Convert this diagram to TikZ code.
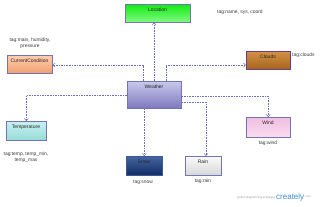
\documentclass[tikz,border=0pt]{standalone}
\usepackage{fontspec}
\setmainfont{Liberation Sans}
\usetikzlibrary{arrows.meta,calc}
\definecolor{bordc}{HTML}{7474B4}
\definecolor{connc}{HTML}{6E6EC0}
\definecolor{txtc}{HTML}{3A3A3A}
\tikzset{
  ent/.style={draw=bordc, line width=0.6pt, inner sep=0pt, anchor=north west, text=black},
  entl/.style={font=\fontsize{5}{6}\selectfont, inner sep=0pt, text=black!85},
  tagl/.style={text=txtc, font=\fontsize{4.9}{5.8}\selectfont, align=center, inner sep=0pt},
  conn/.style={draw=connc, dashed, dash pattern=on 1.6pt off 1pt, line width=0.5pt,
    -{Straight Barb[length=2.2pt,width=4pt,line width=0.5pt]}},
}
\begin{document}
\begin{tikzpicture}[x=1pt,y=-1pt]
\useasboundingbox (0,0) rectangle (320,206);
\fill[white] (0,0) rectangle (320,206);
% entities (top-left anchored)
\node[ent, minimum width=65pt, minimum height=18pt, top color={rgb,255:red,20;green,235;blue,20}, bottom color={rgb,255:red,130;green,250;blue,130}] (loc) at (125,4) {};
\node[entl] (locl) at (157.5,9.5) {Location};
\node[ent, minimum width=45pt, minimum height=18pt, top color={rgb,255:red,255;green,205;blue,175}, bottom color={rgb,255:red,240;green,160;blue,110}] (cc) at (7,55) {};
\node[entl] (ccl) at (29.5,60.5) {CurrentCondition};
\node[ent, minimum width=44pt, minimum height=18pt, top color={rgb,255:red,210;green,145;blue,70}, bottom color={rgb,255:red,165;green,100;blue,25}, draw={rgb,255:red,110;green,60;blue,140}] (clouds) at (246,51) {};
\node[entl] (cloudsl) at (268,56.5) {Clouds};
\node[ent, minimum width=54pt, minimum height=27pt, top color={rgb,255:red,200;green,200;blue,235}, bottom color={rgb,255:red,125;green,120;blue,190}] (weather) at (127,81) {};
\node[entl] (weatherl) at (154,86.5) {Weather};
\node[ent, minimum width=40pt, minimum height=19pt, top color={rgb,255:red,200;green,240;blue,240}, bottom color={rgb,255:red,150;green,220;blue,215}] (temp) at (6,121) {};
\node[entl] (templ) at (26,127) {Temperature};
\node[ent, minimum width=44pt, minimum height=20pt, top color={rgb,255:red,240;green,190;blue,225}, bottom color={rgb,255:red,250;green,220;blue,240}] (wind) at (246,117) {};
\node[entl] (windl) at (268,123) {Wind};
\node[ent, minimum width=36pt, minimum height=19pt, top color={rgb,255:red,70;green,100;blue,160}, bottom color={rgb,255:red,15;green,45;blue,100}, draw={rgb,255:red,60;green,90;blue,150}] (snow) at (126,156) {};
\node[entl] (snowl) at (144,161.5) {Snow};
\node[ent, minimum width=36pt, minimum height=19pt, top color={rgb,255:red,250;green,250;blue,250}, bottom color={rgb,255:red,215;green,215;blue,215}] (rain) at (185,156) {};
\node[entl] (rainl) at (203,161.5) {Rain};
% tag labels
\node[tagl, anchor=west] (loct) at (217,12) {tag:name, sys, coord};
\node[tagl] (cct) at (30,43) {tag:main, humidity,\\pressure};
\node[tagl, anchor=west] (cloudst) at (292,55.5) {tag:clouds};
\node[tagl] (tempt) at (26,157.5) {tag:temp, temp\_min,\\temp\_max};
\node[tagl] (windt) at (268,143) {tag:wind};
\node[tagl] (snowt) at (143,182.5) {tag:snow};
\node[tagl] (raint) at (203,181.5) {tag:rain};
% connectors
\draw[conn] (weather.north -| 154,0) -- (loc.south -| 154,0);
\draw[conn] (weather.north -| 143,0) |- (cc.east |- 0,65);
\draw[conn] (weather.north -| 166,0) |- (clouds.west |- 0,65);
\draw[conn] (weather.west |- 0,95) -| (temp.north);
\draw[conn] (weather.east |- 0,96) -| (wind.north);
\draw[conn] (weather.east |- 0,102) -| (rain.north -| 206,0);
\draw[conn] (weather.south -| snow.north) -- (snow.north);
% watermark
\node[anchor=east, inner sep=0pt, text=gray!80, font=\fontsize{2.8}{3}\selectfont] (wm1) at (275,198) {[online diagramming \& design]};
\node[anchor=west, inner sep=0pt, text={rgb,255:red,60;green,140;blue,210}, font=\fontsize{8}{9}\selectfont] (wm2) at (276,197) {creately};
\node[anchor=west, inner sep=0pt, text=gray!80, font=\fontsize{2.8}{3}\selectfont] (wm3) at (wm2.east) {.com};
\end{tikzpicture}
\end{document}
